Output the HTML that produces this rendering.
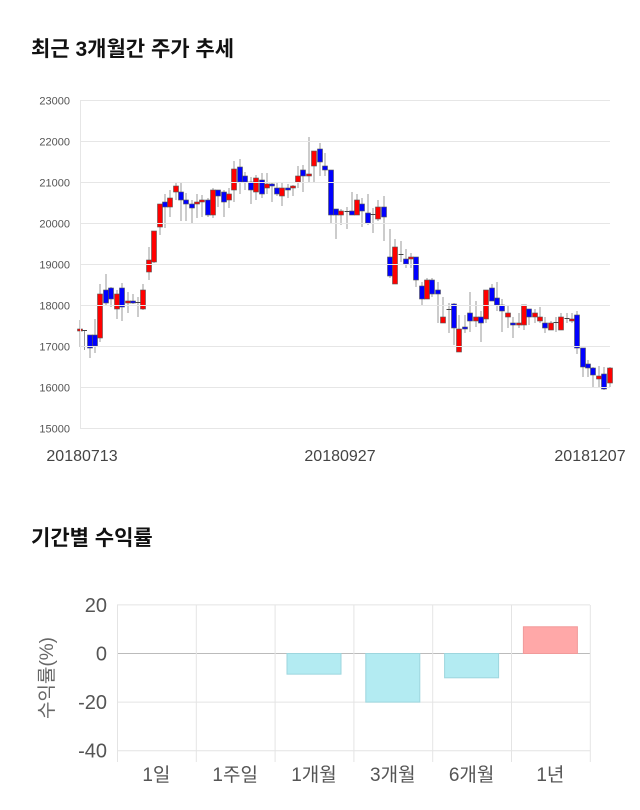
<!DOCTYPE html>
<html><head><meta charset="utf-8">
<style>
html,body{margin:0;padding:0;background:#fff;width:640px;height:810px;overflow:hidden}
.t{position:absolute;left:31px;font:bold 21px "Liberation Sans","Noto Sans CJK KR",sans-serif;color:#111}
</style></head><body>
<div class="t" style="top:33px">최근 3개월간 주가 추세</div>
<div class="t" style="top:522px">기간별 수익률</div>
<svg id="s" width="640" height="810" style="position:absolute;left:0;top:0" font-family="Liberation Sans, Noto Sans CJK KR, sans-serif">
<g id="c"></g>
</svg>
<script>
var ns="http://www.w3.org/2000/svg",S=document.getElementById('s');
function el(t,a,p,txt){if(typeof p==='string'){txt=p;p=null;}var e=document.createElementNS(ns,t);for(var k in a)e.setAttribute(k,a[k]);if(txt!=null)e.textContent=txt;(p||S).appendChild(e);return e;}
for(var i=0;i<=8;i++){var y=100.5+i*41;el('line',{x1:80,x2:610,y1:y,y2:y,stroke:'#e6e6e6'});
el('text',{x:70,y:y+4,'text-anchor':'end','font-size':11,fill:'#555'},String(23000-i*1000));}
el('line',{x1:80.5,x2:80.5,y1:100,y2:428,stroke:'#e6e6e6'});
el('text',{x:82,y:461,'text-anchor':'middle','font-size':16,fill:'#444'},'20180713');
el('text',{x:340,y:461,'text-anchor':'middle','font-size':16,fill:'#444'},'20180927');
el('text',{x:590,y:461,'text-anchor':'middle','font-size':16,fill:'#444'},'20181207');
var D=[[80,329,331,320,347,'r'],[84.5,330,331,330,350,'d'],[90,335,348,335,358,'b'],[95,335,346,319,353,'b'],[100,294,338,284,342,'r'],[106,290,303,274,305,'b'],[111,288,299,287,307,'b'],[117,294,309,290,319,'r'],[122,288,307,283,321,'b'],[128,301,303,292,313,'r'],[133,301,303,294,304,'b'],[138,302,303,297,317,'d'],[143,290,309,284,310,'r'],[149,260,272,247,280,'r'],[154,231,262,231,263,'r'],[160,204,227,204,235,'r'],[165,202,207,194,228,'b'],[170,198,207,190,217,'r'],[176,186,192,182,200,'r'],[181,192,200,182,221,'b'],[186,200,204,193,221,'b'],[192,204,208,200,223,'b'],[197,202,204,194,218,'r'],[202,200,202,195,217,'r'],[208,200,215,198,217,'b'],[213,190,215,188,218,'r'],[218,190,196,190,207,'b'],[224,192,202,190,217,'b'],[229,194,200,188,208,'r'],[234,169,190,161,202,'r'],[240,167,182,159,194,'b'],[245,176,182,172,190,'b'],[251,182,190,177,204,'b'],[256,178,192,175,200,'r'],[262,180,194,173,198,'b'],[267,184,188,173,194,'r'],[272,184,186,182,202,'b'],[277,188,194,182,196,'b'],[282,188,196,182,206,'r'],[288,188,190,184,198,'b'],[293,186,188,185,196,'r'],[298,176,182,166,188,'r'],[303,170,176,165,192,'b'],[309,174,176,137,182,'r'],[314,151,166,151,182,'r'],[320,149,162,143,176,'b'],[325,166,170,153,176,'b'],[331,170,215,170,223,'b'],[336,209,215,209,239,'b'],[341,211,215,209,225,'r'],[347,211,212,207,229,'d'],[352,211,215,192,215,'b'],[357,200,215,194,215,'r'],[362,204,211,198,227,'b'],[368,213,223,194,225,'b'],[373,214,215,208,233,'d'],[378,207,219,200,221,'r'],[384,207,217,196,241,'b'],[390,257,276,229,278,'b'],[395,247,284,239,284,'r'],[401,254,256,241,262,'d'],[406,259,264,249,268,'b'],[411,257,259,253,268,'r'],[416,257,280,257,287,'b'],[422,286,299,282,305,'b'],[427,280,299,278,299,'r'],[432,280,294,278,297,'b'],[438,290,294,282,323,'b'],[443,317,323,297,323,'r'],[449,309,310,303,333,'d'],[454,304,328,303,345,'b'],[459,329,352,315,352,'r'],[465,327,329,315,333,'b'],[470,313,321,292,332,'b'],[476,317,321,301,327,'r'],[481,317,323,311,342,'b'],[486,290,319,290,323,'r'],[492,288,301,284,301,'b'],[497,298,305,282,311,'b'],[502,305,311,299,332,'b'],[508,313,317,305,328,'r'],[513,323,325,317,338,'b'],[519,323,325,313,328,'r'],[524,305,325,305,330,'r'],[529,309,317,309,325,'b'],[535,313,317,309,323,'r'],[540,317,321,307,323,'r'],[545,323,328,317,333,'b'],[551,323,330,321,330,'r'],[556,322,323,317,332,'d'],[561,317,330,313,330,'r'],[567,318,319,313,323,'d'],[572,319,321,313,323,'r'],[577,315,348,311,354,'b'],[583,348,367,348,377,'b'],[588,364,368,360,377,'b'],[593,368,375,367,387,'b'],[599,376,379,366,387,'r'],[604,374,389,367,390,'b'],[610,368,383,367,387,'r']];
var C=document.getElementById('c');
D.forEach(function(d){var x=d[0];el('line',{x1:x,x2:x,y1:d[3],y2:d[4],stroke:'#999','stroke-width':1},C);
if(d[5]=='d'){el('line',{x1:x-2.5,x2:x+2.5,y1:d[1]+0.5,y2:d[1]+0.5,stroke:'#444','stroke-width':1},C);}
else el('rect',{x:x-2.5,y:d[1],width:5,height:Math.max(2,d[2]-d[1]),fill:d[5]=='r'?'#f00':'#00f',stroke:'#555','stroke-width':0.6},C);});
var yv=function(v){return 653.5-v*2.43;};
[20,0,-20,-40].forEach(function(v){var y=yv(v);el('line',{x1:117,x2:590,y1:y,y2:y,stroke:v==0?'#bbb':'#e4e4e4'});
el('text',{x:107,y:y+7,'text-anchor':'end','font-size':20,fill:'#555'},String(v));});
for(var i=0;i<7;i++){var x=117.5+i*78.8;el('line',{x1:x,x2:x,y1:605,y2:762,stroke:'#e4e4e4'});}
var L=['1일','1주일','1개월','3개월','6개월','1년'],V=[0,0,-8.5,-20,-10,11];
L.forEach(function(l,i){var cx=117+78.8*(i+0.5);
if(V[i]!=0){var y0=yv(0),y1=yv(V[i]);el('rect',{x:cx-27,y:Math.min(y0,y1),width:54,height:Math.abs(y1-y0),fill:V[i]>0?'#ffa8a8':'#b3ebf2',stroke:V[i]>0?'#f19a9a':'#9dd6de','stroke-width':1});}
el('text',{x:cx,y:781,'text-anchor':'middle','font-size':19,fill:'#555'},l);});
el('text',{x:0,y:0,'font-size':19,fill:'#666','text-anchor':'middle',transform:'translate(53,678) rotate(-90)'},'수익률(%)');
</script>
</body></html>
